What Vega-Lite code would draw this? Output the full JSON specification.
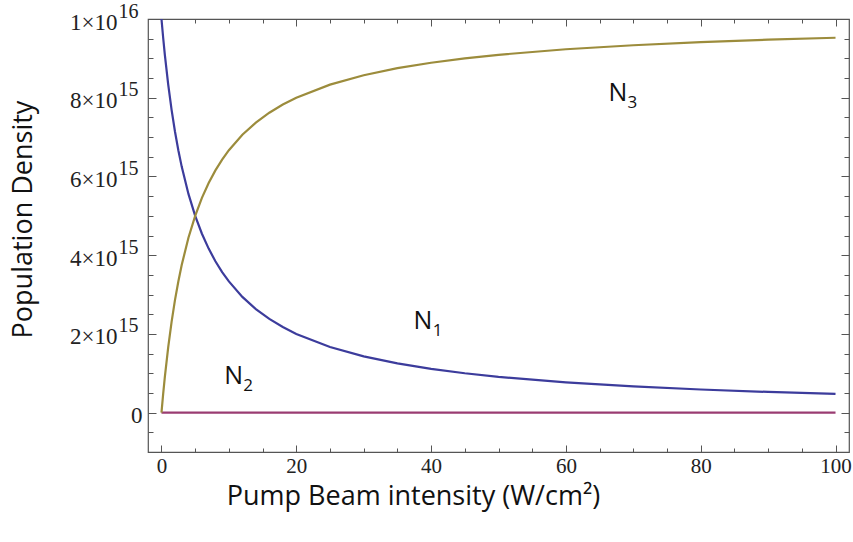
{
  "$schema": "https://vega.github.io/schema/vega-lite/v6.json",
  "width": 701,
  "height": 433,
  "autosize": "none",
  "padding": {"left": 148, "top": 19, "right": 4, "bottom": 90},
  "background": "white",
  "config": {"view": {"stroke": "#555555", "strokeWidth": 1.2}},
  "datasets": {
    "curves": [
      {"intensity": 0, "series": "N1", "density": 10},
      {"intensity": 0.25, "series": "N1", "density": 9.524},
      {"intensity": 0.5, "series": "N1", "density": 9.091},
      {"intensity": 1, "series": "N1", "density": 8.333},
      {"intensity": 1.5, "series": "N1", "density": 7.692},
      {"intensity": 2, "series": "N1", "density": 7.143},
      {"intensity": 2.5, "series": "N1", "density": 6.667},
      {"intensity": 3, "series": "N1", "density": 6.25},
      {"intensity": 4, "series": "N1", "density": 5.556},
      {"intensity": 5, "series": "N1", "density": 5},
      {"intensity": 6, "series": "N1", "density": 4.545},
      {"intensity": 7, "series": "N1", "density": 4.167},
      {"intensity": 8, "series": "N1", "density": 3.846},
      {"intensity": 9, "series": "N1", "density": 3.571},
      {"intensity": 10, "series": "N1", "density": 3.333},
      {"intensity": 12, "series": "N1", "density": 2.941},
      {"intensity": 14, "series": "N1", "density": 2.632},
      {"intensity": 16, "series": "N1", "density": 2.381},
      {"intensity": 18, "series": "N1", "density": 2.174},
      {"intensity": 20, "series": "N1", "density": 2},
      {"intensity": 25, "series": "N1", "density": 1.667},
      {"intensity": 30, "series": "N1", "density": 1.429},
      {"intensity": 35, "series": "N1", "density": 1.25},
      {"intensity": 40, "series": "N1", "density": 1.111},
      {"intensity": 45, "series": "N1", "density": 1},
      {"intensity": 50, "series": "N1", "density": 0.909},
      {"intensity": 60, "series": "N1", "density": 0.769},
      {"intensity": 70, "series": "N1", "density": 0.667},
      {"intensity": 80, "series": "N1", "density": 0.588},
      {"intensity": 90, "series": "N1", "density": 0.526},
      {"intensity": 100, "series": "N1", "density": 0.476},
      {"intensity": 0, "series": "N2", "density": 0},
      {"intensity": 100, "series": "N2", "density": 0},
      {"intensity": 0, "series": "N3", "density": 0},
      {"intensity": 0.25, "series": "N3", "density": 0.476},
      {"intensity": 0.5, "series": "N3", "density": 0.909},
      {"intensity": 1, "series": "N3", "density": 1.667},
      {"intensity": 1.5, "series": "N3", "density": 2.308},
      {"intensity": 2, "series": "N3", "density": 2.857},
      {"intensity": 2.5, "series": "N3", "density": 3.333},
      {"intensity": 3, "series": "N3", "density": 3.75},
      {"intensity": 4, "series": "N3", "density": 4.444},
      {"intensity": 5, "series": "N3", "density": 5},
      {"intensity": 6, "series": "N3", "density": 5.455},
      {"intensity": 7, "series": "N3", "density": 5.833},
      {"intensity": 8, "series": "N3", "density": 6.154},
      {"intensity": 9, "series": "N3", "density": 6.429},
      {"intensity": 10, "series": "N3", "density": 6.667},
      {"intensity": 12, "series": "N3", "density": 7.059},
      {"intensity": 14, "series": "N3", "density": 7.368},
      {"intensity": 16, "series": "N3", "density": 7.619},
      {"intensity": 18, "series": "N3", "density": 7.826},
      {"intensity": 20, "series": "N3", "density": 8},
      {"intensity": 25, "series": "N3", "density": 8.333},
      {"intensity": 30, "series": "N3", "density": 8.571},
      {"intensity": 35, "series": "N3", "density": 8.75},
      {"intensity": 40, "series": "N3", "density": 8.889},
      {"intensity": 45, "series": "N3", "density": 9},
      {"intensity": 50, "series": "N3", "density": 9.091},
      {"intensity": 60, "series": "N3", "density": 9.231},
      {"intensity": 70, "series": "N3", "density": 9.333},
      {"intensity": 80, "series": "N3", "density": 9.412},
      {"intensity": 90, "series": "N3", "density": 9.474},
      {"intensity": 100, "series": "N3", "density": 9.524}
    ],
    "labels": [
      {"intensity": 67.7, "density": 8.12, "sub": "3"},
      {"intensity": 38.8, "density": 2.34, "sub": "1"},
      {"intensity": 10.7, "density": 0.93, "sub": "2"}
    ]
  },
  "layer": [
    {
      "data": {"name": "curves"},
      "mark": {"type": "line", "strokeWidth": 2.2, "clip": true},
      "encoding": {
        "x": {
          "field": "intensity", "type": "quantitative",
          "scale": {"domain": [-2, 102], "nice": false, "zero": false},
          "axis": {
            "orient": "bottom", "grid": false, "domain": false,
            "values": [0,5,10,15,20,25,30,35,40,45,50,55,60,65,70,75,80,85,90,95,100],
            "labelExpr": "datum.value % 20 == 0 ? datum.value : ''",
            "tickSize": {"condition": {"test": "datum.value % 20 == 0", "value": -7}, "value": -4},
            "tickColor": "#555555", "tickWidth": 1,
            "labelFont": "Liberation Serif", "labelFontSize": 21, "labelColor": "#222222",
            "labelPadding": 10, "labelFlush": false, "labelOverlap": false,
            "title": "Pump Beam intensity (W/cm²)",
            "titleFont": "Open Sans", "titleFontSize": 27, "titleFontWeight": "normal", "titleColor": "#111111",
            "titleX": 265, "titleY": 44, "titleAlign": "center", "titleBaseline": "middle", "titleAnchor": null
          }
        },
        "y": {
          "field": "density", "type": "quantitative",
          "scale": {"domain": [-1, 10], "nice": false, "zero": false},
          "axis": {
            "orient": "left", "grid": false, "domain": false,
            "values": [-0.5,0,0.5,1,1.5,2,2.5,3,3.5,4,4.5,5,5.5,6,6.5,7,7.5,8,8.5,9,9.5,10],
            "labelExpr": "datum.value == 0 ? '0' : (datum.value % 2 == 0 && datum.value > 0) ? (datum.value == 10 ? '1' : datum.value) + '×10' : ''",
            "tickSize": {"condition": {"test": "datum.value % 2 == 0", "value": -8}, "value": -5},
            "tickColor": "#555555", "tickWidth": 1,
            "labelFont": "Liberation Serif", "labelFontSize": 23, "labelColor": "#222222",
            "labelPadding": {"condition": {"test": "datum.value == 0", "value": 14}, "value": 39},
            "labelOffset": 3,
            "labelFlush": false, "labelOverlap": false, "labelBaseline": "middle",
            "title": "Population Density",
            "titleFont": "Open Sans", "titleFontSize": 27, "titleFontWeight": "normal", "titleColor": "#111111",
            "titleX": -125, "titleY": 200, "titleAngle": -90, "titleAlign": "center", "titleBaseline": "middle", "titleAnchor": null
          }
        },
        "color": {
          "field": "series", "type": "nominal",
          "scale": {"domain": ["N1", "N2", "N3"], "range": ["#3c3c9c", "#9a3c72", "#9c8c3c"]},
          "legend": null
        }
      }
    },
    {
      "data": {"name": "labels"},
      "mark": {"type": "text", "font": "Open Sans", "fontSize": 25, "align": "center", "baseline": "middle", "color": "#111111"},
      "encoding": {
        "x": {
          "field": "intensity", "type": "quantitative",
          "axis": {
            "orient": "top", "grid": false, "domain": false, "labels": false, "title": null,
            "values": [0,5,10,15,20,25,30,35,40,45,50,55,60,65,70,75,80,85,90,95,100],
            "tickSize": {"condition": {"test": "datum.value % 20 == 0", "value": -7}, "value": -4},
            "tickColor": "#555555", "tickWidth": 1
          }
        },
        "y": {
          "field": "density", "type": "quantitative",
          "axis": {
            "orient": "right", "grid": false, "domain": false, "labels": false, "title": null,
            "values": [-0.5,0,0.5,1,1.5,2,2.5,3,3.5,4,4.5,5,5.5,6,6.5,7,7.5,8,8.5,9,9.5,10],
            "tickSize": {"condition": {"test": "datum.value % 2 == 0", "value": -8}, "value": -5},
            "tickColor": "#555555", "tickWidth": 1
          }
        },
        "text": {"value": "N"}
      }
    },
    {
      "data": {"name": "labels"},
      "mark": {"type": "text", "font": "Open Sans", "fontSize": 17, "align": "center", "baseline": "middle", "dx": 14.5, "dy": 10, "color": "#111111"},
      "encoding": {
        "x": {"field": "intensity", "type": "quantitative", "axis": null},
        "y": {
          "field": "density", "type": "quantitative",
          "axis": {
            "orient": "left", "grid": false, "domain": false, "ticks": false, "title": null,
            "values": [2, 4, 6, 8, 10],
            "labelExpr": "datum.value == 10 ? '16' : '15'",
            "labelFont": "Liberation Serif", "labelFontSize": 20, "labelColor": "#222222",
            "labelPadding": 10, "labelOffset": -8, "labelBaseline": "middle",
            "labelFlush": false, "labelOverlap": false
          }
        },
        "text": {"field": "sub"}
      }
    }
  ],
  "resolve": {"axis": {"x": "independent", "y": "independent"}}
}
